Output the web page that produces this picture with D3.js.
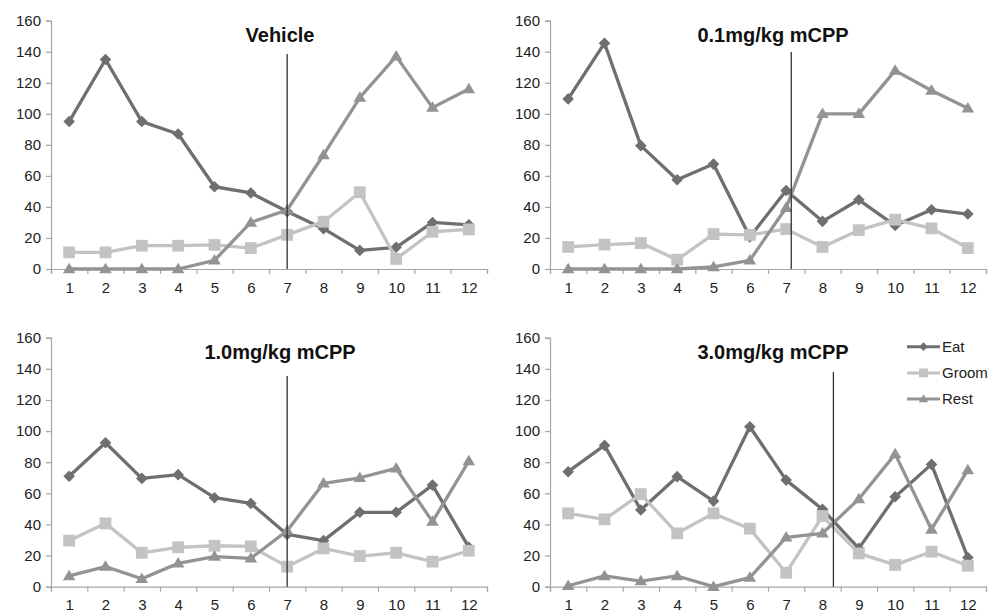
<!DOCTYPE html>
<html>
<head>
<meta charset="utf-8">
<script src="https://cdn.jsdelivr.net/npm/d3@7"></script>
<style>
  html, body { margin: 0; padding: 0; background: #fff; }
  svg { display: block; font-family: "Liberation Sans", Arial, Helvetica, sans-serif; }
</style>
</head>
<body>
<svg id="chart" width="1003" height="613"></svg>
<script>
// ---------------- DATA ----------------
const categories = [1, 2, 3, 4, 5, 6, 7, 8, 9, 10, 11, 12];
const yTicks = [0, 20, 40, 60, 80, 100, 120, 140, 160];
const seriesNames = ["Eat", "Groom", "Rest"];
const panelTitles = ["Vehicle", "0.1mg/kg mCPP", "1.0mg/kg mCPP", "3.0mg/kg mCPP"];

const vehicleEat   = [95, 135, 95, 87, 53, 49, 37, 26, 12, 14, 30, 28.5];
const vehicleGroom = [10.7, 10.7, 15, 15, 15.5, 13.5, 22, 30.5, 49.5, 6.5, 24, 25.5];
const vehicleRest  = [0, 0, 0, 0, 5.6, 30, 38, 73.5, 110.5, 137, 104, 116];

const dose01Eat   = [109.6, 145.5, 79.5, 57.5, 67.6, 20.6, 50.6, 30.7, 44.6, 28, 38.2, 35.4];
const dose01Groom = [14.2, 15.7, 16.7, 6, 22.5, 22, 25.7, 14.2, 25, 31.8, 26.2, 13.5];
const dose01Rest  = [0, 0, 0, 0, 1.3, 5.6, 39.5, 100, 100, 127.8, 115, 103.6];

const dose10Eat   = [71, 92.5, 69.6, 72, 57.2, 53.5, 33.6, 29.6, 47.8, 47.8, 65.3, 25.3];
const dose10Groom = [29.6, 40.7, 21.8, 25.3, 26.3, 25.9, 12.9, 24.6, 19.7, 21.8, 16.1, 23.1];
const dose10Rest  = [6.9, 12.9, 5.1, 15, 19.3, 18.2, 36, 66.4, 70, 76, 41.8, 80.7];

const dose30Eat   = [73.9, 90.8, 49.3, 70.7, 55, 102.8, 68.5, 49.7, 24.6, 57.8, 78.6, 18.8];
const dose30Groom = [47.1, 43.3, 59.5, 34.3, 47.1, 37.3, 9, 45.4, 21.4, 14, 22.5, 13.5];
const dose30Rest  = [0.6, 6.9, 3.6, 6.9, 0, 5.8, 31.7, 34.3, 56.4, 85.2, 36.8, 75];

// position of the vertical marker line (in category units) and its top value
const markerAt  = [7, 7.14, 7, 8.3];
const markerTop = [138.5, 139.8, 135.4, 138];

// ---------------- LAYOUT / STYLE ----------------
const panels = [
  { left: 51,  right: 487, top: 20.7,  bottom: 269,   series: [vehicleEat, vehicleGroom, vehicleRest] },
  { left: 550, right: 986, top: 20.7,  bottom: 269,   series: [dose01Eat, dose01Groom, dose01Rest] },
  { left: 51,  right: 487, top: 337.7, bottom: 586.7, series: [dose10Eat, dose10Groom, dose10Rest] },
  { left: 550, right: 986, top: 337.7, bottom: 586.7, series: [dose30Eat, dose30Groom, dose30Rest] }
];
const colors = ["#6f6f6f", "#c3c3c3", "#939393"];
const axisColor = "#a6a6a6";

const svg = d3.select("#chart");
svg.append("rect").attr("width", 1003).attr("height", 613).attr("fill", "#fff");

function markerPath(kind, s) {
  if (kind === 0) { const r = 5.8 * s; return `M0,${-r}L${r},0L0,${r}L${-r},0Z`; }
  if (kind === 1) { const r = 5.9 * s; return `M${-r},${-r}H${r}V${r}H${-r}Z`; }
  const w = 6.3 * s, h = 10.5 * s;
  return `M0,${-h * 0.6}L${w},${h * 0.4}L${-w},${h * 0.4}Z`;
}

panels.forEach((p, pi) => {
  const x = d3.scaleLinear().domain([0.5, 12.5]).range([p.left, p.right]);
  const y = d3.scaleLinear().domain([0, 160]).range([p.bottom, p.top]);
  const g = svg.append("g");

  const ya = g.append("g").attr("transform", `translate(${p.left},0)`)
    .call(d3.axisLeft(y).tickValues(yTicks).tickSize(5).tickPadding(5).tickFormat(d3.format("d")));
  ya.select(".domain").attr("stroke", axisColor).attr("stroke-width", 1.2);
  ya.selectAll(".tick line").attr("stroke", axisColor).attr("stroke-width", 1.2);
  ya.selectAll(".tick text").attr("fill", "#222").attr("font-size", 15).attr("font-family", "Liberation Sans, Arial, sans-serif");

  const boundaries = d3.range(0.5, 13, 1);
  const xa = g.append("g").attr("transform", `translate(0,${p.bottom})`)
    .call(d3.axisBottom(x).tickValues(boundaries).tickSize(5).tickFormat(""));
  xa.select(".domain").attr("stroke", axisColor).attr("stroke-width", 1.2);
  xa.selectAll(".tick line").attr("stroke", axisColor).attr("stroke-width", 1.2);
  const xl = g.append("g").attr("transform", `translate(0,${p.bottom})`)
    .call(d3.axisBottom(x).tickValues(categories).tickSize(0).tickPadding(13).tickFormat(d3.format("d")));
  xl.select(".domain").remove();
  xl.selectAll(".tick text").attr("fill", "#222").attr("font-size", 15).attr("font-family", "Liberation Sans, Arial, sans-serif");

  g.append("text")
    .attr("x", (pi % 2 === 0 ? 280 : 773))
    .attr("y", p.top + 21)
    .attr("text-anchor", "middle")
    .attr("font-size", 20).attr("font-weight", "bold").attr("fill", "#111")
    .text(panelTitles[pi]);

  p.series.forEach((vals, si) => {
    const line = d3.line().x((d, i) => x(categories[i])).y(d => y(d));
    g.append("path").datum(vals).attr("d", line)
      .attr("fill", "none").attr("stroke", colors[si]).attr("stroke-width", 3.3)
      .attr("stroke-linejoin", "round");
    g.selectAll(null).data(vals).enter().append("path")
      .attr("transform", (d, i) => `translate(${x(categories[i])},${y(d)})`)
      .attr("d", markerPath(si, 1))
      .attr("fill", colors[si]);
  });

  g.append("line")
    .attr("x1", x(markerAt[pi])).attr("x2", x(markerAt[pi]))
    .attr("y1", y(markerTop[pi])).attr("y2", y(0))
    .attr("stroke", "#333").attr("stroke-width", 1.3);
});

const lg = svg.append("g");
seriesNames.forEach((name, si) => {
  const yy = 346.7 + si * 26.2;
  lg.append("line").attr("x1", 907).attr("x2", 940).attr("y1", yy).attr("y2", yy)
    .attr("stroke", colors[si]).attr("stroke-width", 3);
  lg.append("path").attr("transform", `translate(923.5,${yy})`).attr("d", markerPath(si, 0.75)).attr("fill", colors[si]);
  lg.append("text").attr("x", 942).attr("y", yy + 5).attr("font-size", 15).attr("fill", "#222").text(name);
});
</script>
</body>
</html>
